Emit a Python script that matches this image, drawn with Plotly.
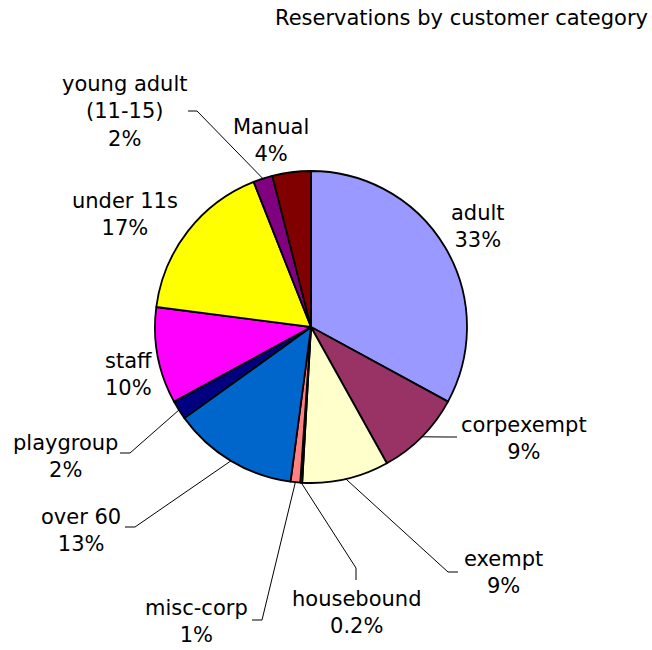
import math
import plotly.graph_objects as go

# Reservation shares by customer category (percent), clockwise from 12 o'clock
categories = ["adult", "corpexempt", "exempt", "housebound", "misc-corp", "over 60",
              "playgroup", "staff", "under 11s", "young adult (11-15)", "Manual"]
label_text = ["adult", "corpexempt", "exempt", "housebound", "misc-corp", "over 60",
              "playgroup", "staff", "under 11s", "young adult<br>(11-15)", "Manual"]
shares = [33, 9, 9, 0.2, 1, 13, 2, 10, 17, 2, 4]
slice_colors = ["#9999FF", "#993366", "#FFFFCC", "#CCFFFF", "#FF8080", "#0066CC",
                "#000080", "#FF00FF", "#FFFF00", "#800080", "#800000"]

W, H = 652, 650
CX, CY, R = 311, 327, 156          # pie centre and radius in pixels
FONT = dict(family="DejaVu Sans, Verdana, sans-serif", size=21, color="#000000")

# label centre offsets from the pie centre (px)
label_offset = {
    "adult": (167, -101), "corpexempt": (213, 111), "exempt": (192, 245),
    "housebound": (45, 285), "misc-corp": (-115, 294), "over 60": (-230, 203),
    "playgroup": (-246, 129), "staff": (-183, 48), "under 11s": (-186, -112),
    "young adult (11-15)": (-187, -215), "Manual": (-40, -187),
}
# leader lines: elbow offset from pie centre, then a short tick towards the label
leader = {
    "corpexempt": ((136, 110), (10, 0)),
    "exempt": ((137, 245), (10, 0)),
    "housebound": ((45, 241), (0, 12)),
    "misc-corp": ((-49, 293), (-10, 0)),
    "over 60": ((-176, 200), (-10, 0)),
    "playgroup": ((-181, 126), (-10, 0)),
    "young adult (11-15)": ((-114, -216), (-9, 0)),
}


def px(x):
    return x / W


def py(y):
    return 1 - y / H


fig = go.Figure()
fig.add_trace(go.Pie(
    labels=categories, values=shares, sort=False, direction="clockwise", rotation=0,
    marker=dict(colors=slice_colors, line=dict(color="#000000", width=1.8)),
    textinfo="none", hoverinfo="label+value", showlegend=False,
    domain=dict(x=[px(CX - R), px(CX + R)], y=[py(CY + R), py(CY - R)]),
))

total = sum(shares)
annotations = []
shapes = []
cum = 0.0
for name, txt, v in zip(categories, label_text, shares):
    mid = math.radians((cum + v / 2) / total * 360)
    cum += v
    dx, dy = label_offset[name]
    annotations.append(dict(
        x=px(CX + dx), y=py(CY + dy), xref="paper", yref="paper",
        text=f"{txt}<br>{v:g}%", showarrow=False, font=FONT,
        xanchor="center", yanchor="middle", align="center", borderpad=0,
    ))
    if name in leader:
        (ex, ey), (tx, ty) = leader[name]
        sx, sy = CX + R * math.sin(mid), CY - R * math.cos(mid)
        x1, y1 = CX + ex, CY + ey
        x2, y2 = x1 + tx, y1 + ty
        shapes.append(dict(
            type="path", xref="paper", yref="paper",
            path=f"M {px(sx)} {py(sy)} L {px(x1)} {py(y1)} L {px(x2)} {py(y2)}",
            line=dict(color="#000000", width=1),
        ))

annotations.append(dict(
    x=px(650), y=py(18), xref="paper", yref="paper",
    text="Reservations by customer category", showarrow=False, font=FONT,
    xanchor="right", yanchor="middle",
))

fig.update_layout(
    width=W, height=H, margin=dict(l=0, r=0, t=0, b=0),
    paper_bgcolor="#FFFFFF", plot_bgcolor="#FFFFFF",
    annotations=annotations, shapes=shapes,
)

fig.write_html("out.html")
